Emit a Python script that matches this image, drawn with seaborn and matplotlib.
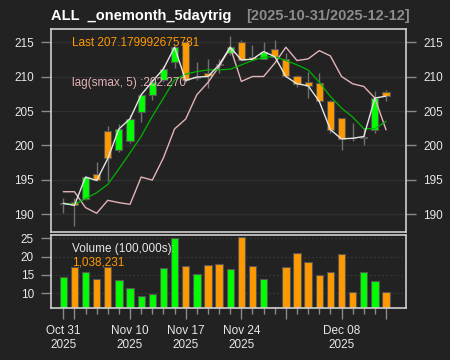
import numpy as np
import pandas as pd
import matplotlib
matplotlib.use("Agg")
import matplotlib.pyplot as plt
import seaborn as sns

# ---------------- data ----------------
dates = ["2025-10-31", "2025-11-03", "2025-11-04", "2025-11-05", "2025-11-06", "2025-11-07",
         "2025-11-10", "2025-11-11", "2025-11-12", "2025-11-13", "2025-11-14",
         "2025-11-17", "2025-11-18", "2025-11-19", "2025-11-20", "2025-11-21",
         "2025-11-24", "2025-11-25", "2025-11-26", "2025-11-28",
         "2025-12-01", "2025-12-02", "2025-12-03", "2025-12-04", "2025-12-05",
         "2025-12-08", "2025-12-09", "2025-12-10", "2025-12-11", "2025-12-12"]
opens = [191.50, 191.79, 192.27, 195.89, 202.07, 199.41, 200.70, 204.87, 207.37, 209.55,
         212.20, 215.10, 209.85, 210.50, 211.85, 213.40, 215.00, 212.83, 212.59, 213.99,
         212.59, 210.03, 209.30, 209.06, 206.50, 203.95, 201.15, 201.15, 202.31, 207.71]
highs = [192.41, 192.30, 195.50, 197.58, 202.89, 203.10, 204.50, 207.50, 209.60, 211.60,
         214.40, 215.20, 212.10, 212.50, 212.50, 215.90, 215.30, 214.60, 215.10, 215.40,
         213.40, 210.30, 210.75, 210.50, 206.60, 204.00, 203.27, 202.55, 207.86, 208.00]
lows = [190.24, 188.31, 192.10, 194.80, 194.83, 199.00, 200.30, 203.40, 206.65, 209.20,
        211.20, 209.20, 209.55, 208.30, 210.50, 213.20, 212.30, 212.40, 212.50, 212.80,
        209.90, 208.50, 206.90, 206.30, 201.80, 199.30, 200.70, 200.10, 201.83, 206.40]
closes = [191.59, 191.30, 195.41, 194.92, 198.11, 202.40, 203.90, 207.37, 209.30, 211.14,
          214.28, 209.45, 209.95, 210.03, 211.72, 214.28, 212.44, 212.54, 213.65, 212.92,
          210.03, 208.97, 208.68, 206.41, 202.30, 200.96, 201.05, 201.30, 206.89, 207.18]
volume = [14.37, 17.19, 15.82, 13.99, 17.27, 13.72, 11.45, 9.35, 9.81, 16.83,
          25.20, 17.55, 15.27, 17.73, 17.92, 16.55, 25.30, 17.55, 13.90, 6.34,
          17.10, 21.10, 18.50, 14.90, 15.90, 20.70, 10.35, 15.80, 13.36, 10.38]
sma_line = [191.59, 191.45, 192.27, 193.14, 194.34, 196.61, 198.93, 201.34, 204.24, 206.89,
            209.55, 210.37, 210.75, 210.99, 210.99, 211.09, 211.72, 212.35, 212.83, 212.92,
            212.35, 211.72, 210.99, 209.21, 207.13, 205.44, 204.14, 202.45, 202.45, 203.51]
lag_smax = [193.28, 193.28, 190.97, 190.15, 192.03, 191.69, 191.45, 195.41, 194.97, 198.21,
            202.41, 203.85, 207.38, 209.16, 211.48, 214.28, 209.31, 210.03, 210.03, 211.96,
            214.28, 212.35, 212.59, 213.79, 213.02, 210.03, 208.97, 208.58, 206.89, 202.27]
label_dates = ["2025-10-31", "2025-11-10", "2025-11-17", "2025-11-24", "2025-12-08"]
long_tick_dates = ["2025-10-31", "2025-11-03", "2025-11-10", "2025-11-17", "2025-11-24",
                   "2025-12-01", "2025-12-08", "2025-12-12"]
price_ticks = [190, 195, 200, 205, 210, 215]
volume_ticks = [10, 15, 20, 25]
title_main = "ALL  _onemonth_5daytrig"
title_range = "[2025-10-31/2025-12-12]"
last_text = "Last 207.179992675781"
lag_text = "lag(smax, 5) :202.270"
vol_title = "Volume (100,000s):"
vol_last = "1,038,231"

# ---------------- style ----------------
BG = "#222222"
GRID = "#303030"
UP = "#00FF00"
DN = "#FF9900"
BORDER = "#cfcfcf"
TXT = "#e8e8e8"

sns.set_theme(style="dark")
plt.rcParams["font.family"] = ["Liberation Sans", "DejaVu Sans"]
plt.rcParams["axes.facecolor"] = BG
plt.rcParams["figure.facecolor"] = BG

fig = plt.figure(figsize=(4.5, 3.6), dpi=100)
W, H = 450.0, 360.0
def rect(x0, y0, x1, y1):
    return [x0 / W, 1 - y1 / H, (x1 - x0) / W, (y1 - y0) / H]

ax = fig.add_axes(rect(50.7, 29.3, 406.3, 232.3))
axv = fig.add_axes(rect(50.7, 235.0, 406.3, 308.3))

n = len(dates)
idx = np.arange(n)
df = pd.DataFrame({"i": idx, "open": opens, "high": highs, "low": lows, "close": closes,
                   "vol": volume, "sma": sma_line, "lag": lag_smax})
df["dir"] = np.where(df["close"] >= df["open"], "up", "dn")
cols = [UP if d == "up" else DN for d in df["dir"]]

for a in (ax, axv):
    a.set_facecolor(BG)
    for s in a.spines.values():
        s.set_color(BORDER)
        s.set_linewidth(1.2)

xl = (-1.13, 30.82)

# ---- main panel ----
for t in price_ticks:
    ax.axhline(t, color=GRID, lw=1.0, zorder=0)
ax.vlines(idx, df["low"], df["high"], color="#707070", lw=1.0, zorder=1)
body_bottom = np.minimum(df["open"], df["close"])
body_h = np.maximum(np.abs(df["close"] - df["open"]), 0.08)
ax.bar(idx, body_h, bottom=body_bottom, width=0.64, color=cols,
       edgecolor="#555555", linewidth=0.8, zorder=2)

sns.lineplot(data=df, x="i", y="lag", ax=ax, color="#e3b3b6", linewidth=1.0, zorder=3)
sns.lineplot(data=df, x="i", y="sma", ax=ax, color="#00b400", linewidth=0.9, zorder=3)
sns.lineplot(data=df, x="i", y="close", ax=ax, color="#e6e6e6", linewidth=1.0, zorder=4)

ax.set_xlim(*xl)
ax.set_ylim(187.38, 216.89)
ax.set_xlabel("")
ax.set_ylabel("")
ax.set_xticks([])
ax.set_yticks(price_ticks)
ax.set_yticklabels([str(t) for t in price_ticks])
ax.tick_params(axis="y", left=True, right=True, labelleft=True, labelright=True,
               length=7, width=1, color="#8a8a8a", labelcolor=TXT, labelsize=8.5, pad=5)
ax.grid(False)

ax.text(0.06, 0.934, last_text, transform=ax.transAxes, color=DN, fontsize=8.5,
        va="center", ha="left", zorder=6)
ax.text(0.06, 0.734, lag_text, transform=ax.transAxes, color="#e3b3b6", fontsize=8.5,
        va="center", ha="left", zorder=6)

# ---- volume panel ----
for t in volume_ticks:
    axv.axhline(t, color="#3a3a3a", lw=0.8, ls=(0, (1.5, 2)), zorder=0)
sns.barplot(data=df, x="i", y="vol", hue="dir", palette={"up": UP, "dn": DN},
            dodge=False, native_scale=True, width=0.66, edgecolor="#555555",
            linewidth=0.8, saturation=1, legend=False, ax=axv, zorder=2)
axv.set_xlim(*xl)
axv.set_ylim(5.9, 25.9)
axv.set_xlabel("")
axv.set_ylabel("")
axv.set_yticks(volume_ticks)
axv.set_yticklabels([str(t) for t in volume_ticks])
axv.tick_params(axis="y", left=True, right=False, length=7, width=1, color="#8a8a8a",
                labelcolor=TXT, labelsize=8.5, pad=5)
major_pos = [dates.index(d) for d in long_tick_dates]
axv.set_xticks(major_pos)
lab = []
for d in long_tick_dates:
    if d in label_dates:
        ts = pd.Timestamp(d)
        lab.append(ts.strftime("%b %d") + "\n" + ts.strftime("%Y"))
    else:
        lab.append("")
axv.set_xticklabels(lab)
axv.set_xticks(idx, minor=True)
axv.tick_params(axis="x", which="major", bottom=True, length=8, width=1, color="#8a8a8a",
                labelcolor=TXT, labelsize=8.5, pad=4)
axv.tick_params(axis="x", which="minor", bottom=True, length=4, width=1, color="#8a8a8a")
for t in axv.get_xticklabels():
    t.set_linespacing(1.25)
axv.grid(False)

axv.text(0.06, 0.809, vol_title, transform=axv.transAxes, color=TXT, fontsize=8.5,
         va="center", ha="left", zorder=6)
axv.text(0.06, 0.63, vol_last, transform=axv.transAxes, color=DN, fontsize=8.5,
         va="center", ha="left", zorder=6)

# ---- title ----
fig.text(50.7 / W, 1 - 20.0 / H, title_main, color="#ffffff", fontsize=10.5,
         fontweight="bold", ha="left", va="baseline")
fig.text(245.7 / W, 1 - 20.0 / H, title_range, color="#8c8c8c", fontsize=10.5,
         fontweight="bold", ha="left", va="baseline")

fig.savefig("out.png", dpi=100, facecolor=BG)
